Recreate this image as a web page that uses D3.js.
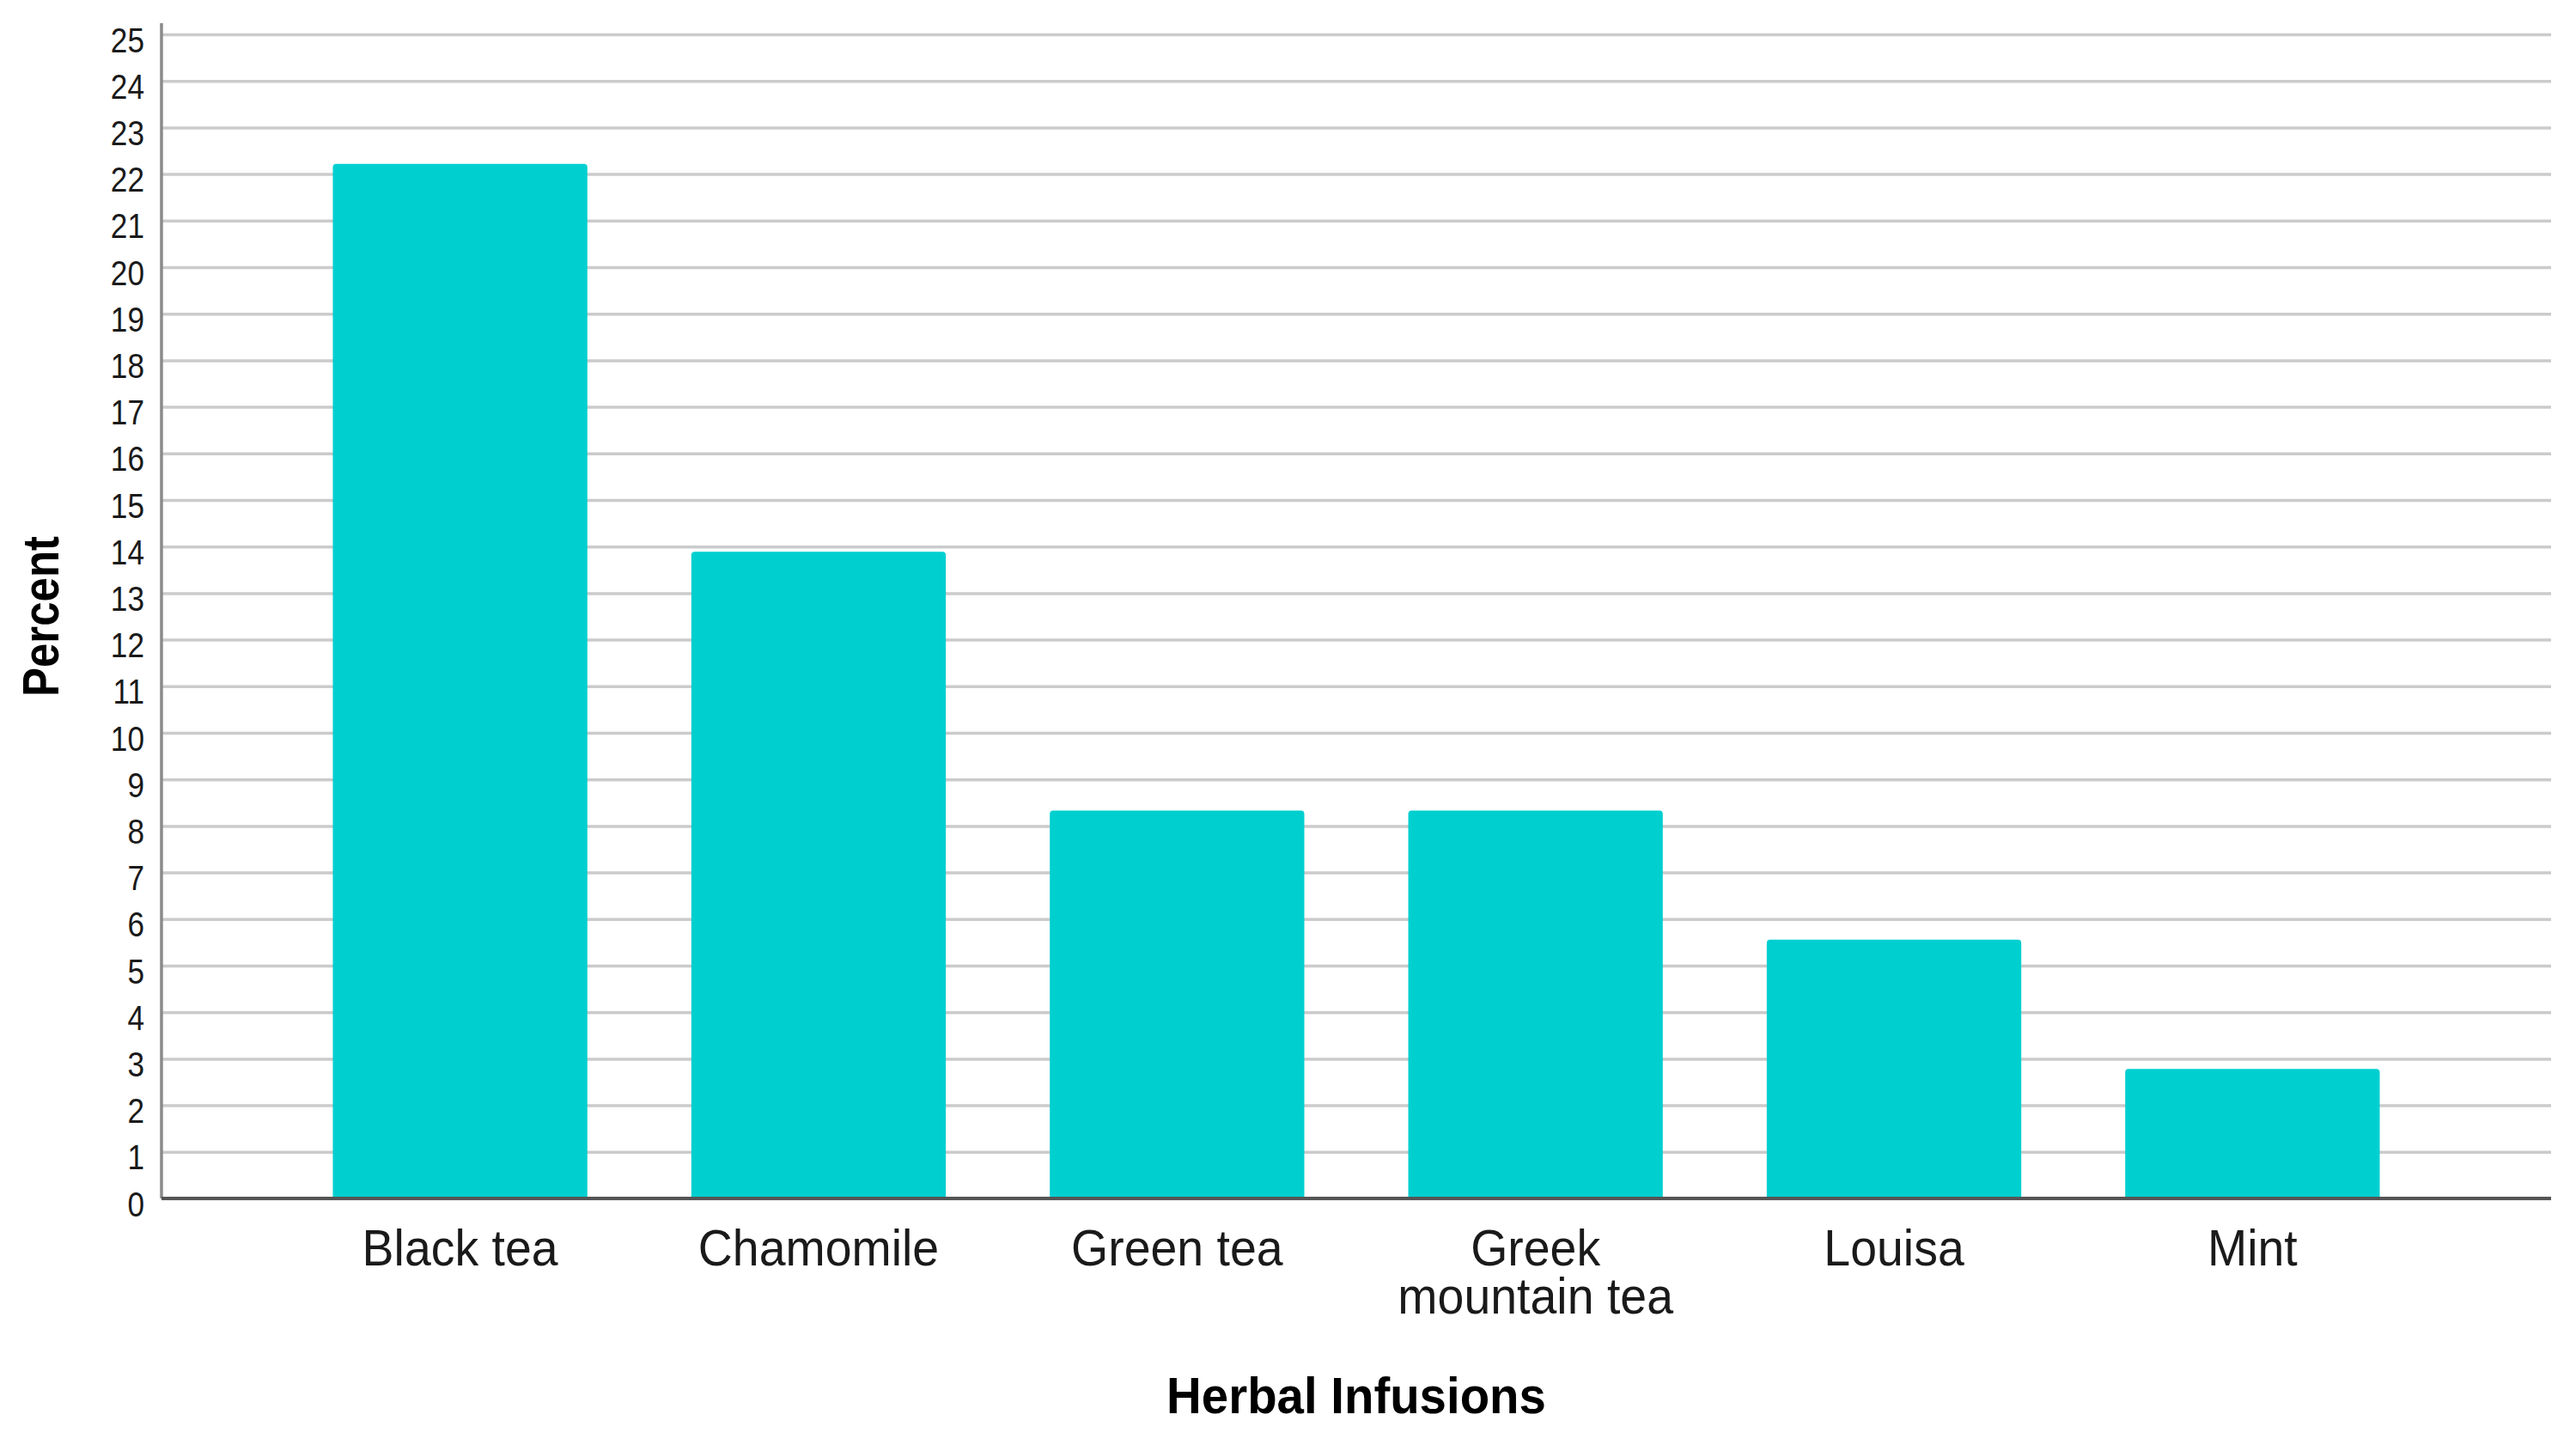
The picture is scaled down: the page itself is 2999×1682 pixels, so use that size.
<!DOCTYPE html>
<html>
<head>
<meta charset="utf-8">
<script src="https://cdn.jsdelivr.net/npm/d3@7"></script>
<style>
  html, body { margin: 0; padding: 0; background: #fff; }
  svg { display: block; }
</style>
</head>
<body>
<svg id="chart"></svg>
<script>
// --- data (n = 36 -> multiples of 1/36) ---
const categories = ['Black tea', 'Chamomile', 'Green tea', 'Greek mountain tea', 'Louisa', 'Mint'];
const labelLines = [['Black tea'], ['Chamomile'], ['Green tea'], ['Greek', 'mountain tea'], ['Louisa'], ['Mint']];
const percents   = [22.22, 13.89, 8.33, 8.33, 5.56, 2.78];
const yTicks     = d3.range(0, 26); // 0 .. 25

const W = 2999, H = 1682;
const plot = { left: 188, right: 2970, top: 40, bottom: 1395 };

const svg = d3.select('#chart').attr('width', W).attr('height', H);
const FONT = '"Liberation Sans", Arial, Helvetica, sans-serif';

const x = d3.scaleBand()
  .domain(categories)
  .range([plot.left, plot.right])
  .paddingInner(0.29)
  .paddingOuter(0.478);

const y = d3.scaleLinear()
  .domain([0, 25])
  .range([plot.bottom, plot.top]);

// gridlines + tick labels
const yAxis = svg.append('g')
  .attr('transform', `translate(${plot.left},0)`)
  .call(d3.axisLeft(y)
    .tickValues(yTicks)
    .tickSize(-(plot.right - plot.left))
    .tickFormat(d3.format('d')));

yAxis.select('.domain').remove();
yAxis.selectAll('.tick line')
  .attr('stroke', '#cbcbcb')
  .attr('stroke-width', 3.5);
yAxis.selectAll('.tick text')
  .attr('x', null)
  .attr('dy', null)
  .attr('fill', '#1a1a1a')
  .attr('font-family', FONT)
  .attr('font-size', 40)
  .attr('text-anchor', 'end')
  .attr('transform', 'translate(-20,20) scale(0.88,1)');

// y axis line
svg.append('line')
  .attr('x1', plot.left).attr('x2', plot.left)
  .attr('y1', plot.top - 13).attr('y2', plot.bottom)
  .attr('stroke', '#8a8a8a')
  .attr('stroke-width', 3.5);

// bars, slightly rounded top corners
function barPath(x0, w, yTop, yBase, r) {
  return `M${x0},${yBase}V${yTop + r}Q${x0},${yTop} ${x0 + r},${yTop}` +
         `H${x0 + w - r}Q${x0 + w},${yTop} ${x0 + w},${yTop + r}V${yBase}Z`;
}

svg.append('g')
  .selectAll('path')
  .data(categories)
  .enter()
  .append('path')
  .attr('fill', '#00cfd0')
  .attr('d', (c, i) => barPath(x(c), x.bandwidth(), y(percents[i]), y(0), 4));

// baseline on top of the bars
svg.append('line')
  .attr('x1', plot.left).attr('x2', plot.right)
  .attr('y1', plot.bottom).attr('y2', plot.bottom)
  .attr('stroke', '#555555')
  .attr('stroke-width', 4);

// category labels
const catG = svg.append('g')
  .selectAll('g')
  .data(categories)
  .enter()
  .append('g')
  .attr('transform', c => `translate(${x(c) + x.bandwidth() / 2},1473)`);

catG.each(function (c, i) {
  const t = d3.select(this).append('text')
    .attr('text-anchor', 'middle')
    .attr('font-family', FONT)
    .attr('font-size', 59)
    .attr('fill', '#1a1a1a')
    .attr('transform', 'scale(0.94,1)');
  labelLines[i].forEach((line, li) => {
    t.append('tspan')
      .attr('x', 0)
      .attr('y', li * 56)
      .text(line);
  });
});

// axis titles
svg.append('text')
  .attr('text-anchor', 'middle')
  .attr('font-family', FONT)
  .attr('font-weight', 'bold')
  .attr('font-size', 60)
  .attr('fill', '#000')
  .attr('transform', `translate(${(plot.left + plot.right) / 2},1645) scale(0.94,1)`)
  .text('Herbal Infusions');

svg.append('text')
  .attr('text-anchor', 'middle')
  .attr('font-family', FONT)
  .attr('font-weight', 'bold')
  .attr('font-size', 60)
  .attr('fill', '#000')
  .attr('transform', `translate(68,${(plot.top + plot.bottom) / 2}) rotate(-90) scale(0.85,1)`)
  .text('Percent');
</script>
</body>
</html>
